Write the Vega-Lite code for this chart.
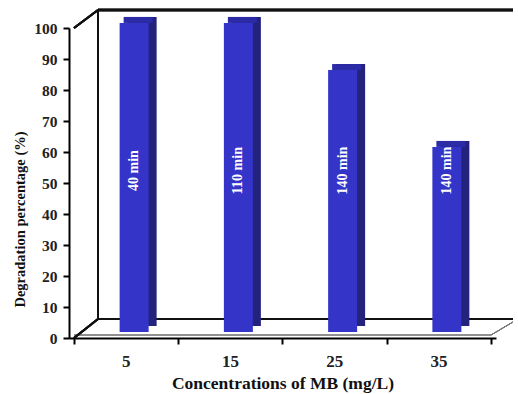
{
  "$schema": "https://vega.github.io/schema/vega-lite/v6.json",
  "width": 427,
  "height": 310,
  "autosize": "none",
  "padding": {"left": 69, "top": 28, "right": 22, "bottom": 56},
  "background": "white",
  "config": {
    "view": {"stroke": null},
    "font": "Liberation Serif"
  },
  "data": {
    "values": [
      {"conc": 5, "degradation": 99.7, "time": "40 min"},
      {"conc": 15, "degradation": 99.7, "time": "110 min"},
      {"conc": 25, "degradation": 84.5, "time": "140 min"},
      {"conc": 35, "degradation": 59.7, "time": "140 min"}
    ]
  },
  "layer": [
    {
      "description": "back wall: top edge",
      "mark": {"type": "rule", "color": "#111", "strokeWidth": 2.5, "xOffset": 24, "x2Offset": 22, "yOffset": -18},
      "encoding": {
        "x": {"datum": 0, "type": "quantitative", "scale": {"domain": [0, 40], "nice": false}, "axis": {"values": [0, 10, 20, 30, 40], "tickCount": 10, "labels": false, "tickSize": 6, "tickWidth": 2, "tickColor": "#000", "domainColor": "#000", "domainWidth": 2, "title": "Concentrations of MB (mg/L)", "titleFont": "Liberation Serif", "titleFontSize": 17.5, "titleFontWeight": "bold", "titleColor": "#111", "titlePadding": 29, "grid": false}},
        "x2": {"datum": 40},
        "y": {"datum": 100, "type": "quantitative", "scale": {"domain": [0, 100], "nice": false}, "axis": {"values": [0, 10, 20, 30, 40, 50, 60, 70, 80, 90, 100], "tickCount": 20, "labelOverlap": false, "tickSize": 6, "tickWidth": 2, "tickColor": "#000", "domainColor": "#000", "domainWidth": 2, "labelFont": "Liberation Serif", "labelFontSize": 15.5, "labelFontWeight": "bold", "labelColor": "#222", "labelPadding": 6, "title": "Degradation  percentage (%)", "titleFont": "Liberation Serif", "titleFontSize": 14.5, "titleFontWeight": "bold", "titleColor": "#111", "titlePadding": 6, "titleY": 191, "grid": false}}
      }
    },
    {
      "description": "back wall: left edge",
      "mark": {"type": "rule", "color": "#111", "strokeWidth": 2, "xOffset": 24, "yOffset": -19, "y2Offset": -18},
      "encoding": {
        "x": {"datum": 0, "type": "quantitative"},
        "y": {"datum": 0, "type": "quantitative"},
        "y2": {"datum": 100}
      }
    },
    {
      "description": "floor: back edge",
      "mark": {"type": "rule", "color": "#111", "strokeWidth": 2, "xOffset": 24, "x2Offset": 22, "yOffset": -19},
      "encoding": {
        "x": {"datum": 0, "type": "quantitative"},
        "x2": {"datum": 40},
        "y": {"datum": 0, "type": "quantitative"}
      }
    },
    {
      "description": "floor: front edge",
      "mark": {"type": "rule", "color": "#888", "strokeWidth": 1, "yOffset": -3},
      "encoding": {
        "x": {"datum": 0, "type": "quantitative"},
        "x2": {"datum": 40},
        "y": {"datum": 0, "type": "quantitative"}
      }
    },
    {
      "description": "depth edges: top-left, bottom-left",
      "mark": {"type": "rule", "color": "#111", "strokeWidth": 2, "x2Offset": 24, "y2Offset": -18},
      "encoding": {
        "x": {"datum": 0, "type": "quantitative"},
        "x2": {"datum": 0},
        "y": {"datum": 100, "type": "quantitative"},
        "y2": {"datum": 100}
      }
    },
    {
      "mark": {"type": "rule", "color": "#111", "strokeWidth": 2, "x2Offset": 24, "y2Offset": -19},
      "encoding": {
        "x": {"datum": 0, "type": "quantitative"},
        "x2": {"datum": 0},
        "y": {"datum": 0, "type": "quantitative"},
        "y2": {"datum": 0}
      }
    },
    {
      "description": "depth edge: floor right",
      "mark": {"type": "rule", "color": "#777", "strokeWidth": 1, "yOffset": -3, "x2Offset": 22, "y2Offset": -16},
      "encoding": {
        "x": {"datum": 40, "type": "quantitative"},
        "x2": {"datum": 40},
        "y": {"datum": 0, "type": "quantitative"},
        "y2": {"datum": 0}
      }
    },
    {
      "description": "bar side face",
      "mark": {"type": "bar", "width": 29, "color": "#23237e", "xOffset": 16, "yOffset": -12, "y2Offset": -12},
      "encoding": {
        "x": {"field": "conc", "type": "quantitative"},
        "y": {"field": "degradation", "type": "quantitative"},
        "y2": {"datum": 0}
      }
    },
    {
      "description": "bar top face",
      "mark": {"type": "bar", "width": 29, "color": "#2b2ba6", "xOffset": 12, "yOffset": -12, "y2Offset": -6},
      "encoding": {
        "x": {"field": "conc", "type": "quantitative"},
        "y": {"field": "degradation", "type": "quantitative"},
        "y2": {"field": "degradation"}
      }
    },
    {
      "description": "bar front face",
      "mark": {"type": "bar", "width": 29, "color": "#3434c9", "xOffset": 8, "yOffset": -6, "y2Offset": -6},
      "encoding": {
        "x": {"field": "conc", "type": "quantitative"},
        "y": {"field": "degradation", "type": "quantitative"},
        "y2": {"datum": 0}
      }
    },
    {
      "description": "reaction time inside each bar",
      "mark": {"type": "text", "angle": 270, "color": "white", "font": "Liberation Serif", "fontWeight": "bold", "fontSize": 14, "align": "center", "baseline": "middle", "xOffset": 8},
      "encoding": {
        "x": {"field": "conc", "type": "quantitative"},
        "y": {"datum": 54, "type": "quantitative"},
        "text": {"field": "time"}
      }
    },
    {
      "description": "category labels under the floor",
      "mark": {"type": "text", "color": "#222", "font": "Liberation Serif", "fontWeight": "bold", "fontSize": 17, "align": "center", "baseline": "middle", "yOffset": 24},
      "encoding": {
        "x": {"field": "conc", "type": "quantitative"},
        "y": {"datum": 0, "type": "quantitative"},
        "text": {"field": "conc"}
      }
    }
  ]
}
